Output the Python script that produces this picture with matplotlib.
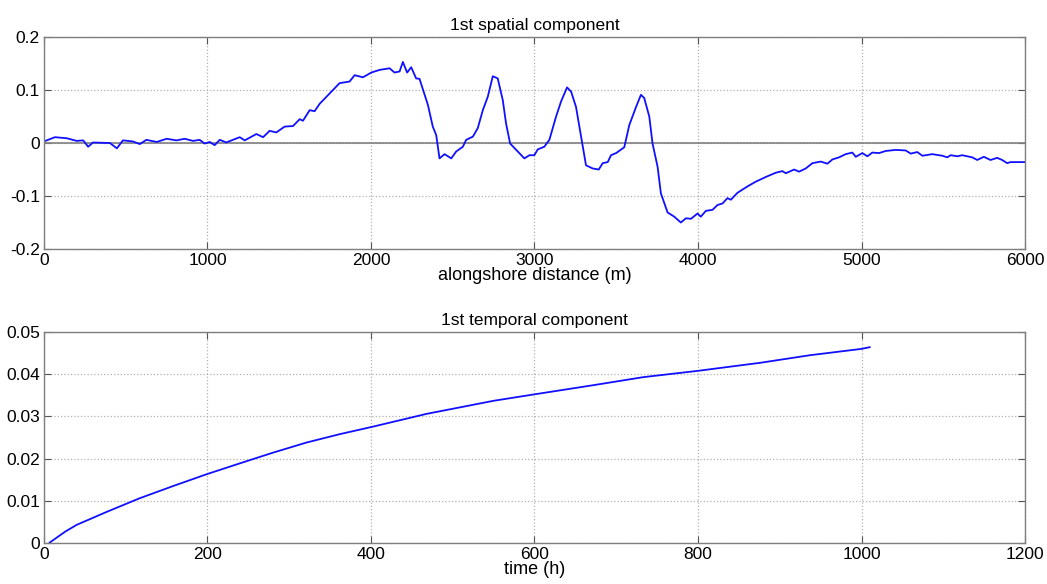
import matplotlib
matplotlib.use('Agg')
import matplotlib.pyplot as plt
import numpy as np

plt.rcParams['font.family'] = ['Liberation Sans', 'DejaVu Sans']
plt.rcParams['axes.unicode_minus'] = False

# 1st spatial component
dist = [0, 67, 140, 200, 240, 270, 300, 403, 446, 483, 543, 586, 626, 690, 750,
        810, 861, 912, 952, 983, 1013, 1044, 1075, 1115, 1156, 1197, 1228, 1299,
        1340, 1380, 1421, 1472, 1523, 1564, 1584, 1625, 1655, 1686, 1767, 1808,
        1869, 1900, 1951, 2002, 2053, 2114, 2144, 2175, 2195, 2221, 2246, 2276,
        2297, 2348, 2378, 2399, 2419, 2450, 2491, 2521, 2562, 2582, 2623, 2653,
        2684, 2714, 2745, 2775, 2806, 2826, 2851, 2888, 2938, 2969, 2999, 3020,
        3060, 3091, 3132, 3162, 3199, 3224, 3254, 3285, 3315, 3356, 3393, 3417,
        3448, 3468, 3499, 3549, 3580, 3621, 3651, 3671, 3702, 3722, 3753, 3773,
        3814, 3855, 3895, 3926, 3957, 3997, 4017, 4048, 4089, 4119, 4150, 4180,
        4201, 4241, 4302, 4353, 4415, 4476, 4516, 4537, 4588, 4618, 4659, 4700,
        4751, 4791, 4822, 4863, 4903, 4944, 4965, 5005, 5036, 5066, 5107, 5148,
        5209, 5270, 5301, 5341, 5372, 5433, 5494, 5525, 5545, 5586, 5616, 5677,
        5708, 5748, 5789, 5830, 5860, 5891, 5911, 6000]
spatial = [0.003, 0.011, 0.009, 0.004, 0.005, -0.007, 0.001, 0.0, -0.010, 0.005,
           0.003, -0.002, 0.006, 0.002, 0.008, 0.005, 0.008, 0.004, 0.006, -0.001,
           0.002, -0.004, 0.006, 0.001, 0.006, 0.011, 0.005, 0.017, 0.011, 0.023,
           0.020, 0.031, 0.032, 0.045, 0.042, 0.062, 0.060, 0.074, 0.100, 0.113,
           0.116, 0.128, 0.124, 0.133, 0.138, 0.141, 0.133, 0.135, 0.153, 0.133,
           0.143, 0.122, 0.121, 0.072, 0.031, 0.015, -0.029, -0.021, -0.029, -0.016,
           -0.007, 0.006, 0.012, 0.028, 0.062, 0.087, 0.126, 0.122, 0.081, 0.037,
           -0.001, -0.013, -0.029, -0.023, -0.023, -0.012, -0.007, 0.006, 0.050,
           0.078, 0.105, 0.097, 0.068, 0.012, -0.042, -0.048, -0.050, -0.038,
           -0.036, -0.023, -0.019, -0.008, 0.034, 0.068, 0.091, 0.085, 0.050,
           -0.001, -0.045, -0.095, -0.131, -0.139, -0.150, -0.142, -0.143, -0.133,
           -0.139, -0.128, -0.126, -0.117, -0.114, -0.104, -0.107, -0.094, -0.082,
           -0.073, -0.064, -0.056, -0.053, -0.057, -0.050, -0.054, -0.048, -0.038,
           -0.035, -0.039, -0.031, -0.027, -0.021, -0.018, -0.026, -0.019, -0.025,
           -0.018, -0.019, -0.015, -0.013, -0.014, -0.020, -0.017, -0.024, -0.021,
           -0.024, -0.027, -0.023, -0.025, -0.023, -0.027, -0.032, -0.026, -0.032,
           -0.028, -0.032, -0.038, -0.036, -0.036]

# 1st temporal component
time_h = [7, 26, 40, 77, 117, 158, 199, 240, 280, 321, 362, 403, 468, 550, 599,
          672, 733, 800, 876, 937, 1000, 1010]
temporal = [0.0001, 0.0027, 0.0043, 0.0074, 0.0106, 0.0135, 0.0163, 0.0189,
            0.0214, 0.0238, 0.0258, 0.0276, 0.0306, 0.0337, 0.0352, 0.0374,
            0.0393, 0.0408, 0.0427, 0.0445, 0.0460, 0.0464]

spine_col = '#7f7f7f'
grid_col = '#b0b0b0'


def matlab_style(ax):
    for s in ax.spines.values():
        s.set_color(spine_col)
        s.set_linewidth(1.0)
    ax.tick_params(direction='in', top=True, right=True, length=5,
                   color='#555555', labelsize=12.5, pad=3)
    ax.grid(True, linestyle=':', color=grid_col, linewidth=0.9)
    ax.set_axisbelow(True)


fig = plt.figure(figsize=(10.47, 5.84), dpi=100)

ax1 = fig.add_axes([0.042, 0.5736, 0.937, 0.363])
ax1.axhline(0, color='#808080', lw=1.2, zorder=1)
ax1.plot(dist, spatial, color='#1010ff', lw=1.3, zorder=2)
ax1.set_xlim(0, 6000)
ax1.set_ylim(-0.2, 0.2)
ax1.set_xticks([0, 1000, 2000, 3000, 4000, 5000, 6000])
ax1.set_yticks([-0.2, -0.1, 0, 0.1, 0.2])
ax1.set_yticklabels(['-0.2', '-0.1', '0', '0.1', '0.2'])
matlab_style(ax1)
ax1.set_title('1st spatial component', fontsize=12.5, pad=5)
ax1.set_xlabel('alongshore distance (m)', fontsize=13, labelpad=-1)

ax2 = fig.add_axes([0.042, 0.0702, 0.937, 0.3613])
ax2.plot(time_h, temporal, color='#1010ff', lw=1.3)
ax2.set_xlim(0, 1200)
ax2.set_ylim(0, 0.05)
ax2.set_xticks([0, 200, 400, 600, 800, 1000, 1200])
ax2.set_yticks([0, 0.01, 0.02, 0.03, 0.04, 0.05])
ax2.set_yticklabels(['0', '0.01', '0.02', '0.03', '0.04', '0.05'])
matlab_style(ax2)
ax2.set_title('1st temporal component', fontsize=12.5, pad=5)
ax2.set_xlabel('time (h)', fontsize=13, labelpad=-1)

fig.savefig('out.png', dpi=100)
